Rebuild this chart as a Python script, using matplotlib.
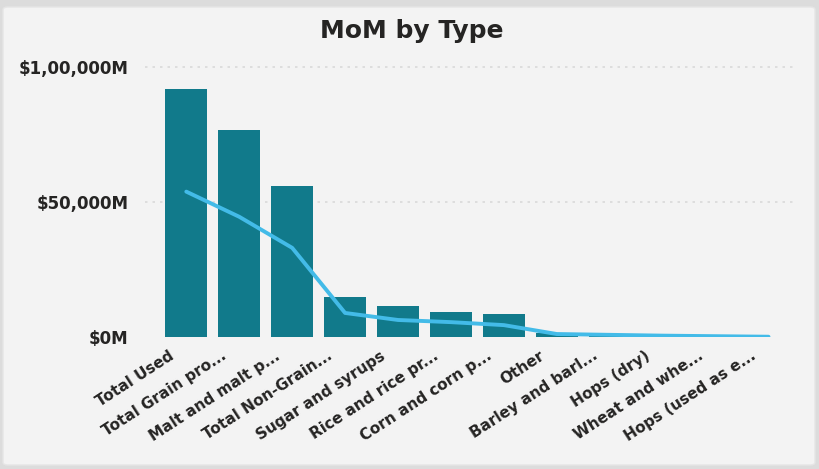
import matplotlib
matplotlib.use("Agg")
import matplotlib.pyplot as plt
from matplotlib.patches import FancyBboxPatch
from matplotlib.transforms import ScaledTranslation

categories = ["Total Used", "Total Grain pro...", "Malt and malt p...", "Total Non-Grain...",
              "Sugar and syrups", "Rice and rice pr...", "Corn and corn p...", "Other",
              "Barley and barl...", "Hops (dry)", "Wheat and whe...", "Hops (used as e..."]
# values in $M
current_values = [91900, 76700, 56000, 14900, 11600, 9100, 8400, 1500, 1000, 600, 300, 100]
previous_values = [53800, 44500, 33000, 8900, 6300, 5500, 4400, 1100, 800, 500, 300, 100]
y_ticks = [0, 50000, 100000]
y_tick_labels = ["$0M", "$50,000M", "$1,00,000M"]

W, H = 820, 469
FONT = "DejaVu Sans"
TEXT_COLOR = "#252423"

fig = plt.figure(figsize=(W / 100, H / 100), dpi=100)
fig.patch.set_facecolor("#dcdcdc")

# card background
card = FancyBboxPatch((3 / W, 4 / H), (W - 8) / W, (H - 11) / H,
                      boxstyle="round,pad=0,rounding_size=0.006",
                      transform=fig.transFigure, facecolor="#f3f3f3",
                      edgecolor="#e6e6e6", linewidth=1, zorder=-10)
fig.patches.append(card)

ax = fig.add_axes([145 / W, 132 / H, 650 / W, (337 - 56) / H])
ax.set_facecolor("none")

x = list(range(len(categories)))
ax.bar(x, current_values, width=0.8, color="#117a8b", zorder=2)
ax.plot(x, previous_values, color="#43bbe8", linewidth=2.8, zorder=3,
        solid_capstyle="round", solid_joinstyle="round")

ax.set_xlim(-0.78, 11.5)
ax.set_ylim(0, 104000)
ax.set_yticks(y_ticks)
ax.set_yticklabels(y_tick_labels)
ax.set_xticks(x)

ax.tick_params(axis="y", length=0, pad=12)
ax.tick_params(axis="x", length=0, pad=8)
for s in ax.spines.values():
    s.set_visible(False)

ax.set_xticklabels(categories, rotation=33, ha="right", va="top", rotation_mode="anchor")

for lbl in ax.get_yticklabels():
    lbl.set_fontfamily(FONT)
    lbl.set_fontweight("bold")
    lbl.set_fontsize(12)
    lbl.set_color(TEXT_COLOR)

shift = ScaledTranslation(-18 / 100, 0, fig.dpi_scale_trans)
for lbl in ax.get_xticklabels():
    lbl.set_fontfamily(FONT)
    lbl.set_fontweight("bold")
    lbl.set_fontsize(11)
    lbl.set_color(TEXT_COLOR)
    lbl.set_transform(lbl.get_transform() + shift)

for yv in y_ticks[1:]:
    ax.axhline(yv, color="#d9d9d9", linewidth=1.2, linestyle=(0, (1.5, 3)), zorder=1)

fig.text(412 / W, 1 - 31 / H, "MoM by Type", ha="center", va="center",
         fontsize=18, fontweight="bold", fontfamily=FONT, color=TEXT_COLOR)

fig.savefig("out.png", dpi=100, facecolor=fig.get_facecolor())
